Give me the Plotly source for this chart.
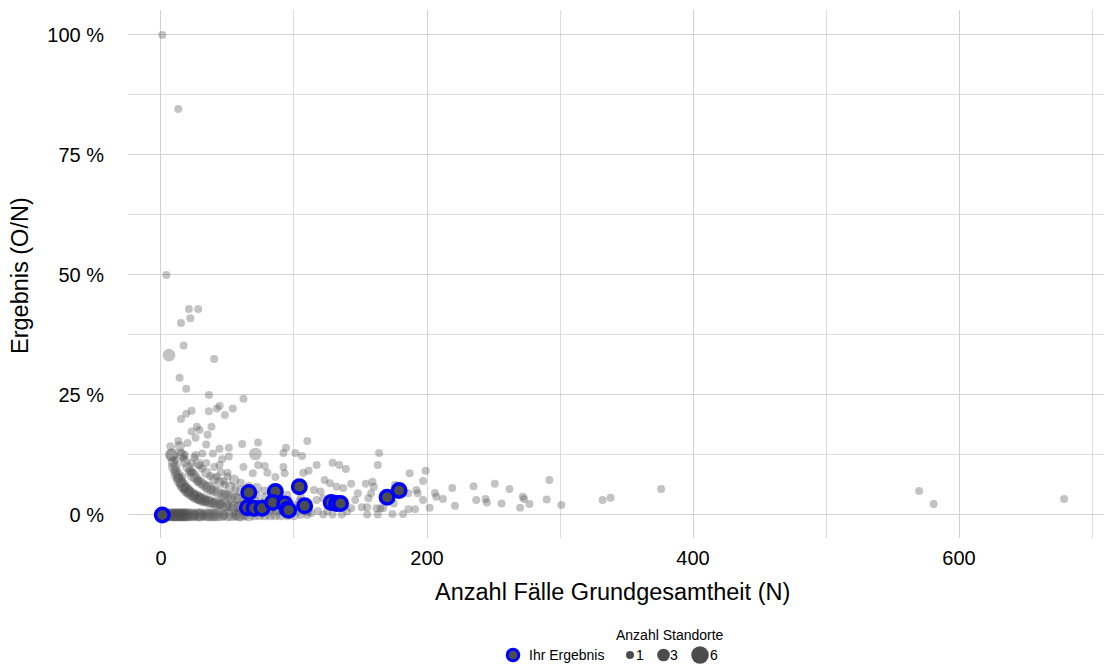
import numpy as np
import plotly.graph_objects as go

# all locations: N (cases), result in percent, number of sites (Standorte)
grey_n = [
    1, 13, 4, 6, 15, 21, 28, 22, 17, 40, 14, 19, 36, 62, 23, 19, 15, 36, 42, 44,
    54, 48, 27, 29, 23, 38, 35, 13, 20, 26, 7, 34, 61, 73, 94, 92, 101, 110, 71, 51,
    44, 39, 31, 26, 15, 8, 51, 46, 44, 18, 11, 17, 23, 29, 34, 10, 12, 16, 22, 24,
    28, 42, 47, 50, 62, 73, 78, 69, 80, 86, 92, 93, 107, 117, 123, 129, 134, 139, 143, 154,
    159, 164, 163, 187, 199, 197, 192, 206, 202, 186, 191, 182, 174, 106, 111, 127, 132, 137, 148, 115,
    120, 122, 117, 146, 151, 155, 162, 143, 113, 122, 129, 136, 155, 163, 167, 160, 158, 156, 176, 193,
    186, 197, 207, 212, 219, 221, 175, 165, 235, 237, 244, 245, 251, 256, 262, 272, 273, 277, 270, 290,
    292, 301, 332, 338, 376, 570, 581, 679,
    # O = 1
    8, 9, 10, 11, 12, 13, 14, 15, 16, 17, 18, 19, 20, 21, 22, 24, 25, 26, 28, 29,
    30, 32, 33, 35, 36, 38, 40, 42, 44, 45, 48, 50, 52, 55, 58, 60, 63, 66, 70, 74,
    78, 82, 88, 92, 98, 105, 110, 118, 125, 140,
    # O = 2
    14, 16, 18, 20, 22, 24, 26, 28, 30, 32, 34, 36, 38, 40, 43, 46, 48, 50, 53, 56,
    58, 62, 66, 70, 75, 80, 85, 90, 100, 110,
    # O = 3
    25, 28, 31, 34, 37, 40, 44, 48, 52, 56, 60, 64, 68, 72, 78, 84, 90, 96, 104,
    # O = 4
    40, 45, 50, 55, 60, 66, 72, 78, 85, 95, 105,
    # O = 0
    2, 3, 4, 5, 6, 7, 8, 9, 10, 11, 12, 13, 14, 15, 16, 17, 18, 19, 20, 22,
    24, 25, 27, 29, 30, 32, 34, 36, 38, 40, 42, 45, 47, 50, 53, 56, 58, 60, 63, 66,
    70, 74, 78, 82, 86, 90, 95, 100, 105, 110,
]
grey_pct = [
    100, 84.6, 50, 33.3, 40, 42.9, 42.9, 41, 35.3, 32.5, 28.6, 26.3, 25, 24.2, 21.7, 21.1, 20, 21.6, 22.2, 22.7,
    22.2, 20.8, 18.4, 17.7, 17.4, 18.4, 16.7, 15.4, 15, 16.1, 14.3, 14.7, 14.8, 15.1, 14, 12.9, 12.9, 15.4, 12.7, 14,
    13.8, 12.8, 12.8, 12.5, 13, 12.5, 12.2, 11.6, 10.4, 12.5, 11.5, 11.8, 10.8, 10.3, 10.8, 10, 8.3, 8, 9.1, 8.7,
    7.1, 8, 7, 8.8, 10, 10.4, 10.2, 8.7, 8.8, 7.9, 10, 8.7, 8.8, 10.4, 7.3, 10.9, 10.4, 9.6, 6.5, 6.5,
    6.9, 12.9, 10.4, 8.7, 9.2, 7.1, 5.2, 4.6, 1.5, 1.2, 1.2, 0.2, 0.2, 12.3, 9.2, 6.6, 5.9, 5.6, 4.5, 5.2,
    4.9, 3.5, 3.1, 3.1, 1.6, 1.6, 1.4, 1.4, 0.4, 0.1, 0.1, 0.1, 0.1, 0.1, 1.4, 5.9, 4.5, 3.5, 6.3, 4.5,
    4.5, 3.1, 3.8, 3.3, 5.6, 1.9, 2.4, 1.4, 6, 3.1, 3.3, 2.6, 6.5, 2.4, 5.4, 3.8, 3.3, 2.3, 1.5, 3.2,
    7.3, 2.1, 3.1, 3.6, 5.4, 5, 2.3, 3.3,
    # O = 1
    12.5, 11.1, 10, 9.1, 8.3, 7.7, 7.1, 6.7, 6.3, 5.9, 5.6, 5.3, 5, 4.8, 4.5, 4.2, 4, 3.8, 3.6, 3.4,
    3.3, 3.1, 3, 2.9, 2.8, 2.6, 2.5, 2.4, 2.3, 2.2, 2.1, 2, 1.9, 1.8, 1.7, 1.7, 1.6, 1.5, 1.4, 1.4,
    1.3, 1.2, 1.1, 1.1, 1, 1, 0.9, 0.8, 0.8, 0.7,
    # O = 2
    14.3, 12.5, 11.1, 10, 9.1, 8.3, 7.7, 7.1, 6.7, 6.3, 5.9, 5.6, 5.3, 5, 4.7, 4.3, 4.2, 4, 3.8, 3.6,
    3.4, 3.2, 3, 2.9, 2.7, 2.5, 2.4, 2.2, 2, 1.8,
    # O = 3
    12, 10.7, 9.7, 8.8, 8.1, 7.5, 6.8, 6.3, 5.8, 5.4, 5, 4.7, 4.4, 4.2, 3.8, 3.6, 3.3, 3.1, 2.9,
    # O = 4
    10, 8.9, 8, 7.3, 6.7, 6.1, 5.6, 5.1, 4.7, 4.2, 3.8,
    # O = 0
    0, 0, 0, 0, 0, 0, 0, 0, 0, 0, 0, 0, 0, 0, 0, 0, 0, 0, 0, 0,
    0, 0, 0, 0, 0, 0, 0, 0, 0, 0, 0, 0, 0, 0, 0, 0, 0, 0, 0, 0,
    0, 0, 0, 0, 0, 0, 0, 0, 0, 0,
]
grey_count = [
    1, 1, 1, 3, 1, 1, 1, 1, 1, 1, 1, 1, 1, 1, 1, 1, 1, 1, 1, 1,
    1, 1, 1, 1, 1, 1, 1, 1, 1, 1, 1, 1, 1, 1, 1, 1, 1, 1, 3, 1,
    1, 1, 1, 1, 1, 3, 1, 1, 1, 1, 1, 1, 1, 1, 1, 1, 1, 1, 1, 1,
    1, 1, 1, 1, 1, 1, 1, 1, 1, 1, 1, 1, 1, 1, 1, 1, 1, 1, 1, 1,
    1, 1, 1, 1, 1, 1, 1, 1, 1, 1, 1, 1, 1, 1, 1, 1, 1, 1, 1, 1,
    1, 1, 1, 1, 1, 1, 1, 1, 1, 1, 1, 1, 1, 1, 1, 1, 1, 1, 1, 1,
    1, 1, 1, 1, 1, 1, 1, 1, 1, 1, 1, 1, 1, 1, 1, 1, 1, 1, 1, 1,
    1, 1, 1, 1, 1, 1, 1, 1,
    # O = 1
    3, 2, 3, 2, 3, 2, 3, 2, 3, 3, 2, 3, 3, 2, 3, 3, 2, 3, 3, 2,
    3, 3, 2, 2, 3, 2, 2, 3, 2, 2, 3, 2, 2, 2, 2, 3, 2, 2, 2, 2,
    2, 2, 2, 2, 2, 1, 2, 1, 1, 1,
    # O = 2
    2, 2, 2, 2, 2, 3, 2, 2, 2, 2, 2, 3, 2, 2, 2, 2, 2, 2, 2, 2,
    2, 1, 2, 2, 1, 2, 1, 1, 1, 1,
    # O = 3
    1, 2, 1, 2, 1, 2, 2, 1, 2, 1, 2, 1, 2, 1, 1, 2, 1, 1, 1,
    # O = 4
    1, 1, 1, 2, 1, 1, 2, 1, 1, 1, 1,
    # O = 0
    3, 2, 3, 3, 2, 3, 3, 3, 3, 3, 3, 3, 3, 3, 3, 3, 3, 3, 3, 3,
    3, 2, 3, 3, 3, 2, 3, 3, 3, 3, 3, 3, 2, 3, 3, 2, 3, 3, 2, 3,
    2, 2, 2, 2, 2, 2, 2, 2, 1, 1,
]

# own results (Ihr Ergebnis)
own_n = [1, 66, 86, 104, 65, 70, 76, 84, 93, 95, 96, 108, 128, 132, 135, 170, 179]
own_pct = [0, 4.7, 4.9, 5.9, 1.5, 1.4, 1.4, 2.6, 2.3, 1.2, 1.0, 1.9, 2.6, 2.4, 2.4, 3.7, 5.1]

size_legend = [1, 3, 6]
x_ticks = [0, 200, 400, 600]
y_ticks = [0, 25, 50, 75, 100]
y_labels = ['0 %', '25 %', '50 %', '75 %', '100 %']

FONT = 'Liberation Sans, Arial, Helvetica, sans-serif'
# the page puts the figure 8px in from the top-left corner of the window
OFF = 8
W, H = 1112 - OFF, 665 - OFF


def px(x):
    # window pixel -> figure pixel
    return x - OFF


def site_size(count):
    # area scale like ggplot's scale_size: 1 site -> 8px, 6 sites -> 17.5px
    c = np.asarray(count, dtype=float)
    return np.sqrt(8.0**2 + (c - 1) / 5 * (17.5**2 - 8.0**2))


fig = go.Figure()

fig.add_trace(go.Scatter(
    x=grey_n, y=grey_pct, mode='markers', showlegend=False, hoverinfo='skip',
    marker=dict(size=site_size(grey_count), color='rgba(77,77,77,0.48)',
                line=dict(width=0)),
))

fig.add_trace(go.Scatter(
    x=own_n, y=own_pct, mode='markers', showlegend=False,
    marker=dict(size=13.5, color='#4d4d4d', line=dict(color='#0000ff', width=3.5)),
))

# hand-made legend at the bottom (own subplot, pixel units from the bottom edge)
fig.add_trace(go.Scatter(
    x=[px(513)], y=[10], mode='markers', xaxis='x2', yaxis='y2', showlegend=False,
    hoverinfo='skip',
    marker=dict(size=11.5, color='#4d4d4d', line=dict(color='#0000ff', width=3)),
))
fig.add_trace(go.Scatter(
    x=[px(630), px(663.5), px(700)], y=[10, 10, 10], mode='markers',
    xaxis='x2', yaxis='y2', showlegend=False, hoverinfo='skip',
    marker=dict(size=site_size(size_legend), color='black', line=dict(width=0)),
))
legend_font = dict(family=FONT, size=14, color='black')
fig.add_annotation(text='Ihr Ergebnis', xref='x2', yref='y2', x=px(527), y=10,
                   xanchor='left', yanchor='middle', showarrow=False, font=legend_font)
for xpos, c in zip([640, 674, 713.5], size_legend):
    fig.add_annotation(text=str(c), xref='x2', yref='y2', x=px(xpos), y=10,
                       xanchor='center', yanchor='middle', showarrow=False,
                       font=legend_font)
fig.add_annotation(text='Anzahl Standorte', xref='x2', yref='y2', x=px(670), y=30,
                   xanchor='center', yanchor='middle', showarrow=False, font=legend_font)

# axis titles
title_font = dict(family=FONT, size=23.5, color='black')
fig.add_annotation(text='Anzahl Fälle Grundgesamtheit (N)', xref='paper', yref='paper',
                   x=px(612) / W, y=1 - px(592) / H, xanchor='center', yanchor='middle',
                   showarrow=False, font=title_font)
fig.add_annotation(text='Ergebnis (O/N)', xref='paper', yref='paper',
                   x=px(20) / W, y=1 - px(276) / H, xanchor='center', yanchor='middle',
                   textangle=-90, showarrow=False, font=title_font)

axis_common = dict(
    showgrid=True, gridcolor='#d2d2d2', gridwidth=1.3, zeroline=False,
    showline=False, ticks='', automargin=False,
    tickfont=dict(family=FONT, size=20, color='black'),
)

fig.update_layout(
    width=W, height=H,
    margin=dict(l=0, r=0, t=0, b=0),
    plot_bgcolor='white', paper_bgcolor='white',
    font=dict(family=FONT, color='black'),
    showlegend=False,
    xaxis=dict(
        domain=[px(128) / W, px(1110) / W], range=[-24.8, 713.5], tickvals=x_ticks,
        ticklabelstandoff=6,
        minor=dict(dtick=100, tick0=0, showgrid=True, gridcolor='#dcdcdc', gridwidth=1),
        **axis_common,
    ),
    yaxis=dict(
        domain=[1 - px(538) / H, 1 - px(10) / H], range=[-4.8, 105.2],
        tickvals=y_ticks, ticktext=y_labels, ticklabelstandoff=23,
        minor=dict(dtick=12.5, tick0=0, showgrid=True, gridcolor='#dcdcdc', gridwidth=1),
        **axis_common,
    ),
    xaxis2=dict(domain=[0, 1], range=[0, W], visible=False, fixedrange=True),
    yaxis2=dict(domain=[0, 60 / H], range=[0, 60], visible=False, fixedrange=True),
)

fig.write_html('out.html')
